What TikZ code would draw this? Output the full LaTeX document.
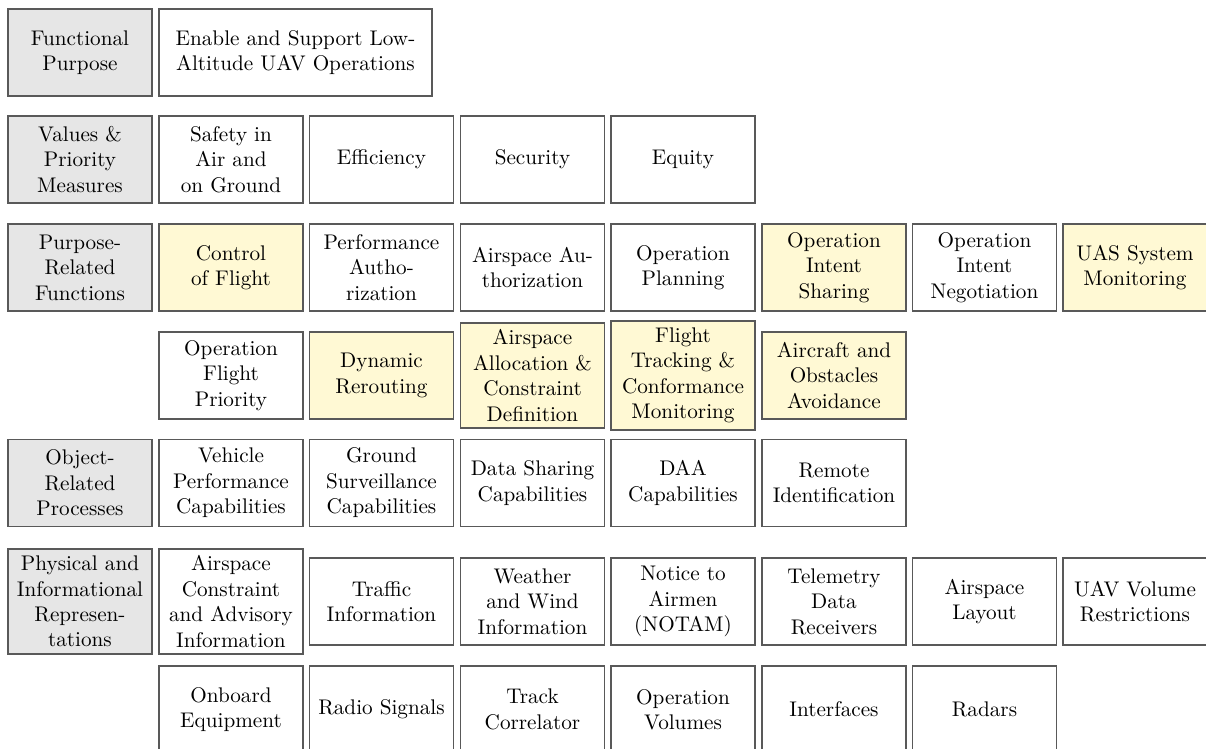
\documentclass[tikz,border=0pt]{standalone}
\definecolor{lvlgray}{RGB}{230,230,230}
\definecolor{hlyellow}{RGB}{255,249,212}
\begin{document}
\begin{tikzpicture}[x=0.472pt,y=-0.472pt,
  box/.style={draw=black!65,line width=0.6pt,minimum width=68pt,
    minimum height=41.1pt,align=center,inner sep=3.2pt},
  lvl/.style={box,fill=lvlgray},
  fn/.style={box,fill=white},
  hl/.style={box,fill=hlyellow}]
\useasboundingbox (0,0) rectangle (1206,748);
% abstraction levels
\node[lvl] (fp) at (80,52.5) {Functional\\Purpose};
\node[lvl] (vpm) at (80,159.5) {Values \&\\Priority\\Measures};
\node[lvl] (prf) at (80,267.5) {Purpose-\\Related\\Functions};
\node[lvl] (orp) at (80,483) {Object-\\Related\\Processes};
\node[lvl] (pir) at (80,601.5) {Physical and\\Informational\\Represen-\\tations};
% functional purpose
\node[fn,minimum width=128.9pt] (lowalt) at (295.5,52.5) {Enable and Support Low-\\Altitude UAV Operations};
% values and priority measures
\node[fn] (safety) at (231,159.5) {Safety in\\Air and\\on Ground};
\node[fn] (effic) at (381.5,159.5) {Efficiency};
\node[fn] (secur) at (532.5,159.5) {Security};
\node[fn] (equity) at (683,159.5) {Equity};
% purpose-related functions
\node[hl] (ctrl) at (231,267.5) {Control\\of Flight};
\node[fn] (perfauth) at (381.5,267.5) {Performance\\Autho-\\rization};
\node[fn] (asauth) at (532.5,267.5) {Airspace Au-\\thorization};
\node[fn] (opplan) at (683,267.5) {Operation\\Planning};
\node[hl] (intshare) at (834,267.5) {Operation\\Intent\\Sharing};
\node[fn] (intneg) at (984.5,267.5) {Operation\\Intent\\Negotiation};
\node[hl] (uasmon) at (1135,267.5) {UAS System\\Monitoring};
\node[fn] (prio) at (231,375.5) {Operation\\Flight\\Priority};
\node[hl] (rerout) at (381.5,375.5) {Dynamic\\Rerouting};
\node[hl] (alloc) at (532.5,375.5) {Airspace\\Allocation \&\\Constraint\\Definition};
\node[hl] (track) at (683,375.5) {Flight\\Tracking \&\\Conformance\\Monitoring};
\node[hl] (avoid) at (834,375.5) {Aircraft and\\Obstacles\\Avoidance};
% object-related processes
\node[fn] (vehcap) at (231,483) {Vehicle\\Performance\\Capabilities};
\node[fn] (survcap) at (381.5,483) {Ground\\Surveillance\\Capabilities};
\node[fn] (datacap) at (532.5,483) {Data Sharing\\Capabilities};
\node[fn] (daacap) at (683,483) {DAA\\Capabilities};
\node[fn] (remid) at (834,483) {Remote\\Identification};
% physical and informational representations
\node[fn] (constr) at (231,601.5) {Airspace\\Constraint\\and Advisory\\Information};
\node[fn] (traffic) at (381.5,601.5) {Traffic\\Information};
\node[fn] (weather) at (532.5,601.5) {Weather\\and Wind\\Information};
\node[fn] (notam) at (683,601.5) {Notice to\\Airmen\\(NOTAM)};
\node[fn] (telem) at (834,601.5) {Telemetry\\Data\\Receivers};
\node[fn] (layout) at (984.5,601.5) {Airspace\\Layout};
\node[fn] (volres) at (1135,601.5) {UAV Volume\\Restrictions};
\node[fn] (onboard) at (231,709.5) {Onboard\\Equipment};
\node[fn] (radio) at (381.5,709.5) {Radio Signals};
\node[fn] (correl) at (532.5,709.5) {Track\\Correlator};
\node[fn] (opvol) at (683,709.5) {Operation\\Volumes};
\node[fn] (iface) at (834,709.5) {Interfaces};
\node[fn] (radars) at (984.5,709.5) {Radars};
\end{tikzpicture}
\end{document}
